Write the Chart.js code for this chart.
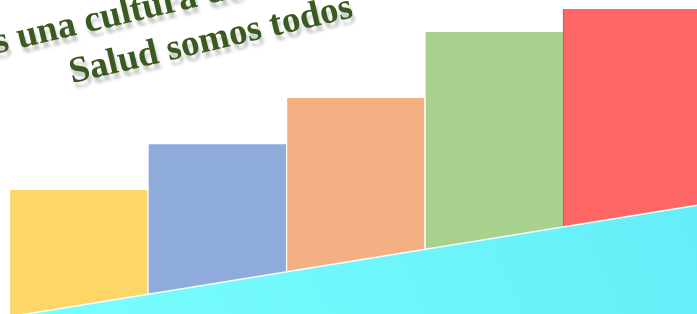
<!DOCTYPE html>
<html lang="es">
<head>
  <meta charset="UTF-8" />
  <title>Salud somos todos</title>
  <script src="https://cdn.jsdelivr.net/npm/chart.js"></script>
  <style>
    body { margin: 0; padding: 0; background: #fff; }
    .wrap {
      position: relative;
      width: 697px; height: 314px;
      overflow: hidden;
    }
    canvas { position: absolute; left: 0; top: 0; }
    .lema {
      position: absolute;
      white-space: nowrap;
      font-family: "Liberation Serif", "Times New Roman", serif;
      font-weight: bold;
      font-size: 37px;
      line-height: 1;
      color: #3a5a1f;
      text-shadow: 1px 6px 3px rgba(80,80,80,0.3);
      transform-origin: 0 0;
    }
  </style>
</head>
<body>
  <div class="wrap">
    <canvas id="escalera" width="697" height="314"></canvas>
    <div class="lema" id="lema1"><span id="pre1">La prevención e</span>s una cultura de vida</div>
    <div class="lema" id="lema2">Salud somos todos</div>
  </div>

  <script>
    // peldaños (posición en el eje x y altura en %)
    const steps = [0, 1, 2, 3, 4];
    const stepValues = [39.5, 54.1, 68.8, 89.8, 97.1];
    const stepColors = ['#fcd667', '#8fabdc', '#f3b183', '#a9d18e', '#ff6666'];
    const stepEdges = ['rgba(255,255,255,0)', 'rgba(255,255,255,0.25)', 'rgba(255,255,255,0.3)', 'rgba(255,255,255,0.95)', '#e65757'];

    // franja inclinada de la base
    const baseX = [-0.5, 4.5];
    const baseY = [-0.9, 34.9];

    const ctx = document.getElementById('escalera').getContext('2d');
    new Chart(ctx, {
      type: 'bar',
      data: {
        datasets: [
          {
            type: 'line',
            data: baseX.map((x, i) => ({ x: x, y: baseY[i] })),
            fill: 'start',
            backgroundColor: c => {
              const ca = c.chart.chartArea;
              if (!ca) return '#70fbfd';
              const g = c.chart.ctx.createLinearGradient(ca.left, ca.bottom, ca.right, ca.top);
              g.addColorStop(0, '#7afffe');
              g.addColorStop(1, '#62ecf7');
              return g;
            },
            borderColor: 'rgba(255,255,255,0.95)',
            borderWidth: 1.5,
            pointRadius: 0,
            order: 0
          },
          {
            type: 'bar',
            data: steps.map((x, i) => ({ x: x, y: stepValues[i] })),
            backgroundColor: stepColors,
            borderColor: stepEdges,
            borderWidth: { left: 1.5, right: 0, top: 0, bottom: 0 },
            borderSkipped: false,
            barPercentage: 1,
            categoryPercentage: 1,
            order: 1
          }
        ]
      },
      options: {
        responsive: false,
        animation: false,
        devicePixelRatio: 1,
        layout: { padding: { left: 9, right: 0, top: 0, bottom: 0 } },
        scales: {
          x: {
            type: 'linear', min: -0.5, max: 4.467, offset: false, display: false,
            // one tick per step so each bar takes its full slot
            afterBuildTicks: s => { s.ticks = steps.map(v => ({ value: v })); }
          },
          y: { min: 0, max: 100, display: false }
        },
        plugins: {
          legend: { display: false },
          tooltip: { enabled: false }
        }
      }
    });

    // lema inclinado: se coloca por el punto de la línea base
    const ang = 13.2 * Math.PI / 180;
    const baseLine = 37 * 0.8375;
    function place(el, ax, ay, along) {
      const L = ax - along * Math.cos(ang) - baseLine * Math.sin(ang);
      const T = ay + along * Math.sin(ang) - baseLine * Math.cos(ang);
      el.style.left = L + 'px';
      el.style.top = T + 'px';
      el.style.transform = 'rotate(-13.2deg)';
    }
    place(document.getElementById('lema1'), -4, 54, document.getElementById('pre1').offsetWidth);
    place(document.getElementById('lema2'), 72, 83, 0);
  </script>
</body>
</html>
